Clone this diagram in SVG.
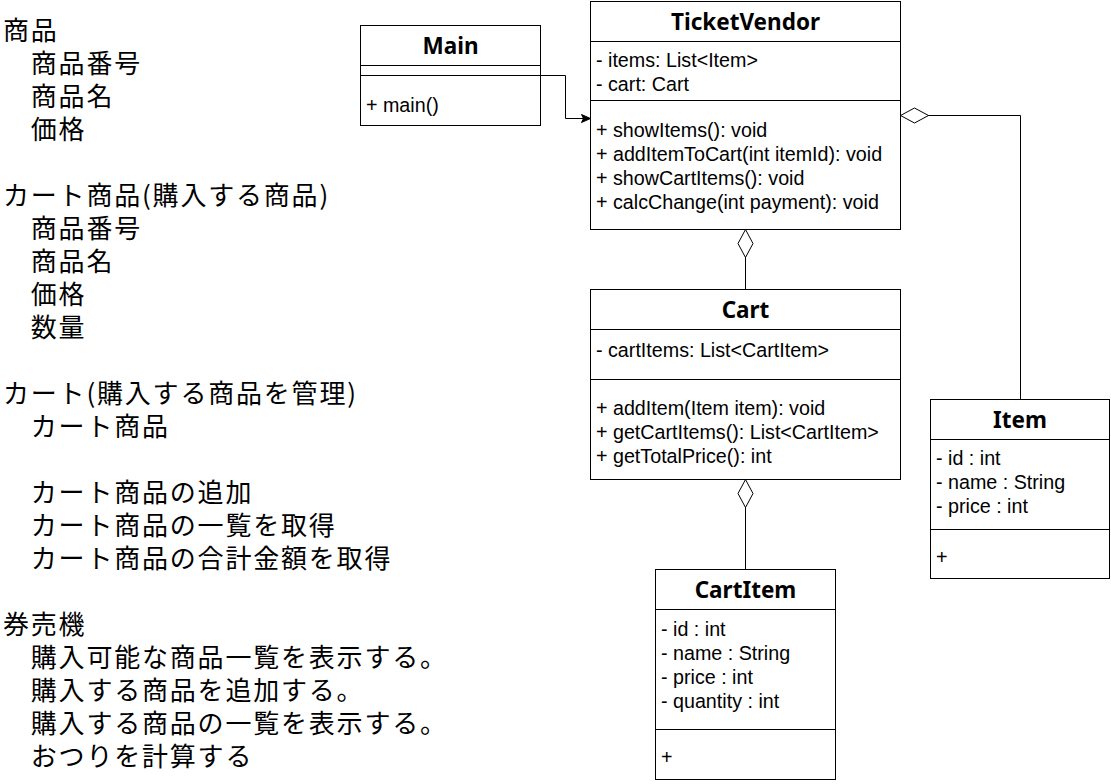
<svg xmlns="http://www.w3.org/2000/svg" width="1111" height="784" viewBox="0 0 1111 784">
<style>
.box{fill:#fff;stroke:#000;stroke-width:1}
.div{stroke:#000;stroke-width:1;fill:none}
.title{font-family:"Noto Sans","Open Sans","DejaVu Sans",sans-serif;font-weight:bold;font-size:22.5px;fill:#000;text-anchor:middle}
.mem{font-family:"Liberation Sans",Arial,sans-serif;font-size:19.7px;fill:#000}
.jp{font-family:"Noto Sans CJK JP","Noto Sans",sans-serif;font-size:26px;letter-spacing:1.8px;fill:#000}
.conn{stroke:#000;stroke-width:1;fill:none}
</style>
<defs>
<marker id="diamond" markerUnits="userSpaceOnUse" markerWidth="30" markerHeight="17" refX="0.5" refY="8" orient="auto" overflow="visible">
<path d="M0.5,8 L14.5,0.5 L28.5,8 L14.5,15.5 Z" fill="#fff" stroke="#000" stroke-width="1"/>
</marker>
<marker id="arrow" markerUnits="userSpaceOnUse" markerWidth="10" markerHeight="9" refX="9" refY="4.5" orient="auto" overflow="visible">
<path d="M0,0.5 L9,4.5 L0,8.5 L2,4.5 Z" fill="#000" stroke="#000" stroke-width="1"/>
</marker>
</defs>

<g id="notes">
<text class="jp" x="3" y="40">商品</text>
<text class="jp" x="30.8" y="73">商品番号</text>
<text class="jp" x="30.8" y="106">商品名</text>
<text class="jp" x="30.8" y="139">価格</text>
<text class="jp" x="3" y="205">カート商品(購入する商品)</text>
<text class="jp" x="30.8" y="238">商品番号</text>
<text class="jp" x="30.8" y="271">商品名</text>
<text class="jp" x="30.8" y="304">価格</text>
<text class="jp" x="30.8" y="337">数量</text>
<text class="jp" x="3" y="403">カート(購入する商品を管理)</text>
<text class="jp" x="30.8" y="436">カート商品</text>
<text class="jp" x="30.8" y="502">カート商品の追加</text>
<text class="jp" x="30.8" y="535">カート商品の一覧を取得</text>
<text class="jp" x="30.8" y="568">カート商品の合計金額を取得</text>
<text class="jp" x="3" y="634">券売機</text>
<text class="jp" x="30.8" y="667">購入可能な商品一覧を表示する。</text>
<text class="jp" x="30.8" y="700">購入する商品を追加する。</text>
<text class="jp" x="30.8" y="733">購入する商品の一覧を表示する。</text>
<text class="jp" x="30.8" y="766">おつりを計算する</text>
</g>

<g id="Main">
<rect class="box" x="360.5" y="25.5" width="180" height="100"/>
<line class="div" x1="360.5" y1="65.5" x2="540.5" y2="65.5"/>
<line class="div" x1="360.5" y1="75.5" x2="540.5" y2="75.5"/>
<text class="title" x="450.5" y="54">Main</text>
<text class="mem" x="366" y="112">+ main()</text>
</g>

<g id="TicketVendor">
<rect class="box" x="590.5" y="1.5" width="310" height="228"/>
<line class="div" x1="590.5" y1="41.5" x2="900.5" y2="41.5"/>
<line class="div" x1="590.5" y1="100.5" x2="900.5" y2="100.5"/>
<text class="title" x="745.5" y="29.5">TicketVendor</text>
<text class="mem" x="596" y="66.5">- items: List&lt;Item&gt;</text>
<text class="mem" x="596" y="90.5">- cart: Cart</text>
<text class="mem" x="596" y="136.5">+ showItems(): void</text>
<text class="mem" x="596" y="160.5">+ addItemToCart(int itemId): void</text>
<text class="mem" x="596" y="184.5">+ showCartItems(): void</text>
<text class="mem" x="596" y="208.5">+ calcChange(int payment): void</text>
</g>

<g id="Cart">
<rect class="box" x="590.5" y="289.5" width="310" height="190"/>
<line class="div" x1="590.5" y1="329.5" x2="900.5" y2="329.5"/>
<line class="div" x1="590.5" y1="379.5" x2="900.5" y2="379.5"/>
<text class="title" x="745.5" y="318">Cart</text>
<text class="mem" x="596" y="357">- cartItems: List&lt;CartItem&gt;</text>
<text class="mem" x="596" y="415">+ addItem(Item item): void</text>
<text class="mem" x="596" y="439">+ getCartItems(): List&lt;CartItem&gt;</text>
<text class="mem" x="596" y="463">+ getTotalPrice(): int</text>
</g>

<g id="CartItem">
<rect class="box" x="655.5" y="569.5" width="180" height="210"/>
<line class="div" x1="655.5" y1="609.5" x2="835.5" y2="609.5"/>
<line class="div" x1="655.5" y1="729.5" x2="835.5" y2="729.5"/>
<text class="title" x="745.5" y="598">CartItem</text>
<text class="mem" x="661" y="636">- id : int</text>
<text class="mem" x="661" y="660">- name : String</text>
<text class="mem" x="661" y="684">- price : int</text>
<text class="mem" x="661" y="708">- quantity : int</text>
<text class="mem" x="661" y="764">+</text>
</g>

<g id="Item">
<rect class="box" x="930.5" y="399.5" width="179" height="179"/>
<line class="div" x1="930.5" y1="439.5" x2="1109.5" y2="439.5"/>
<line class="div" x1="930.5" y1="529.5" x2="1109.5" y2="529.5"/>
<text class="title" x="1020" y="428">Item</text>
<text class="mem" x="936" y="465">- id : int</text>
<text class="mem" x="936" y="489">- name : String</text>
<text class="mem" x="936" y="513">- price : int</text>
<text class="mem" x="936" y="564">+</text>
</g>

<g id="connectors">
<path class="conn" d="M540.5,75.5 H565.5 V118.5 H590.5" marker-end="url(#arrow)"/>
<path class="conn" d="M745.5,229.5 V289.5" marker-start="url(#diamond)"/>
<path class="conn" d="M745.5,479.5 V569.5" marker-start="url(#diamond)"/>
<path class="conn" d="M900.5,115.5 H1020.5 V399.5" marker-start="url(#diamond)"/>
</g>
</svg>
